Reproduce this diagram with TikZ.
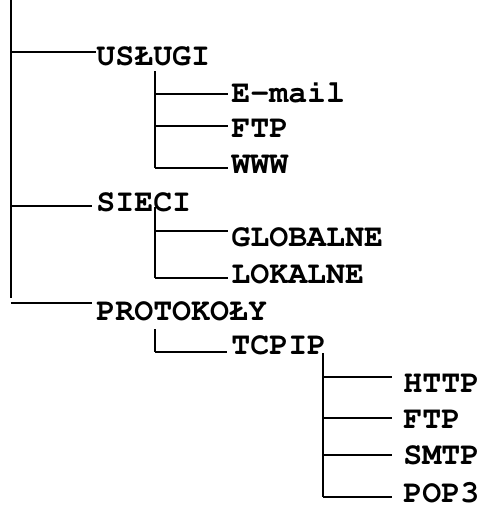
\documentclass[tikz,border=0pt]{standalone}
\usepackage[T1,TU]{fontenc}
\usetikzlibrary{positioning}

\begin{document}
\begin{tikzpicture}[
		x=0.5pt, y=-0.5pt,
		every node/.style={font=\fontencoding{T1}\fontfamily{pcr}\fontseries{b}\fontsize{15.8}{18}\selectfont, inner sep=0pt, anchor=base west},
		branch/.style={line width=1pt}
		]
		\useasboundingbox (0,0) rectangle (482,505);
		
		% level 1
		\node (usl) at (96,65) {US\L UGI};
		\node (sie) at (96,211) {SIECI};
		\node (prot) at (96,320) {PROTOKO\L Y};
		% level 2
		\node (email) at (231,102) {E-mail};
		\node (ftpa) at (231,137) {FTP};
		\node (www) at (231,173) {WWW};
		\node (glob) at (231,246) {GLOBALNE};
		\node (lok) at (231,283) {LOKALNE};
		\node (tcp) at (231,354) {TCPIP};
		% level 3
		\node (http) at (403,392) {HTTP};
		\node (ftpb) at (403,428) {FTP};
		\node (smtp) at (403,464) {SMTP};
		\node (pop) at (403,502) {POP3};
		
		% junctions
		\coordinate (root) at (11,0);
		\coordinate (rootend) at (11,298);
		\coordinate (r1) at (11,52);
		\coordinate (r2) at (11,206);
		\coordinate (r3) at (11,303);
		\coordinate (u0) at (155,71);
		\coordinate (u1) at (155,94);
		\coordinate (u2) at (155,126);
		\coordinate (u3) at (155,168);
		\coordinate (s0) at (155,207);
		\coordinate (s1) at (155,231);
		\coordinate (s2) at (155,278);
		\coordinate (p0) at (155,329);
		\coordinate (p1) at (155,352);
		\coordinate (t0) at (323,353);
		\coordinate (t1) at (323,377);
		\coordinate (t2) at (323,418);
		\coordinate (t3) at (323,455);
		\coordinate (t4) at (323,497);
		
		\draw[branch] (root) -- (rootend);
		\draw[branch] (r1) -- (r1 -| usl.west);
		\draw[branch] (r2) -- ([xshift=-2pt]r2 -| sie.west);
		\draw[branch] (r3) -- ([xshift=-2pt]r3 -| prot.west);
		
		\draw[branch] (u0) -- (u3);
		\draw[branch] (u1) -- ([xshift=-1.5pt]u1 -| email.west);
		\draw[branch] (u2) -- ([xshift=-1.5pt]u2 -| ftpa.west);
		\draw[branch] (u3) -- ([xshift=-1.5pt]u3 -| www.west);
		
		\draw[branch] (s0) -- (s2);
		\draw[branch] (s1) -- ([xshift=-1.5pt]s1 -| glob.west);
		\draw[branch] (s2) -- ([xshift=-1.5pt]s2 -| lok.west);
		
		\draw[branch] (p0) -- (p1);
		\draw[branch] (p1) -- ([xshift=-2pt]p1 -| tcp.west);
		
		\draw[branch] (t0) -- (t4);
		\draw[branch] (t1) -- ([xshift=-5.5pt]t1 -| http.west);
		\draw[branch] (t2) -- ([xshift=-5.5pt]t2 -| ftpb.west);
		\draw[branch] (t3) -- ([xshift=-5.5pt]t3 -| smtp.west);
		\draw[branch] (t4) -- ([xshift=-5.5pt]t4 -| pop.west);
		
	\end{tikzpicture}
\end{document}
